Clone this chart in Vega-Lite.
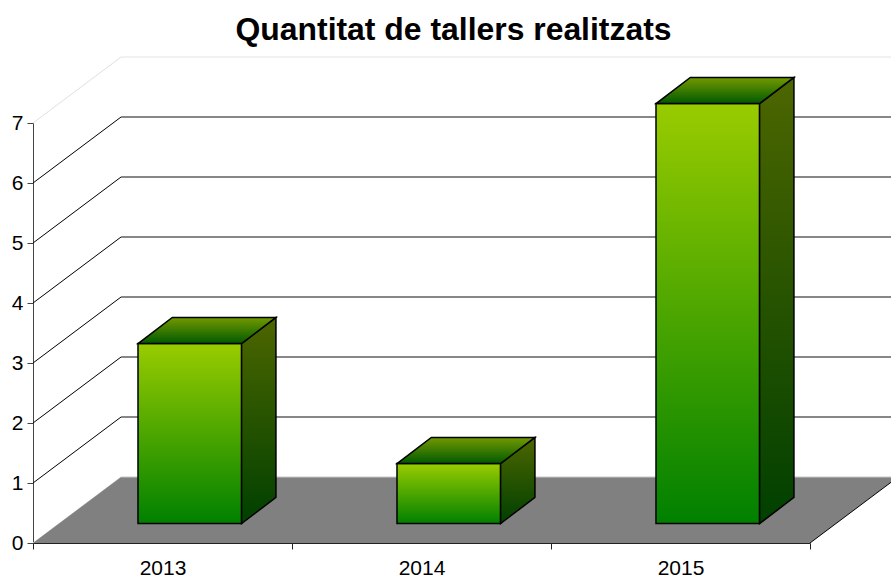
{
"$schema":"https://vega.github.io/schema/vega-lite/v6.json",
"width":777,"height":420,
"autosize":{"type":"none"},
"padding":{"left":33,"right":81,"top":123,"bottom":36},
"background":"white",
"config":{"view":{"stroke":null},"axisY":{"title":null,"labelFont":"Liberation Sans","labelFontSize":21,"labelColor":"#000","labelPadding":4,"domainColor":"#444","tickColor":"#444","tickSize":6,"grid":false,"zindex":1}},
"title":{"text":"Quantitat de tallers realitzats","font":"Liberation Sans","fontWeight":"bold","fontSize":31.9,"color":"#000","anchor":"middle","frame":"group","dx":32,"offset":10},
"datasets":{
"bars":[{"year":"2013","value":3},{"year":"2014","value":1},{"year":"2015","value":7}],
"levels":[{"level":0},{"level":1},{"level":2},{"level":3},{"level":4},{"level":5},{"level":6},{"level":7}]
},
"resolve":{"scale":{"x":"independent"},"axis":{"x":"independent"}},
"layer":[
{"data":{"name":"bars"},"mark":{"type":"bar","opacity":0},
"encoding":{
"x":{"field":"year","type":"nominal","sort":null,"scale":{"type":"band","paddingInner":0,"paddingOuter":0},"axis":{"title":null,"tickBand":"extent","labelAngle":0,"labelFont":"Liberation Sans","labelFontSize":21,"labelColor":"#000","labelPadding":8,"domainColor":"#222","tickColor":"#222","tickSize":6,"grid":false,"zindex":1}},
"y":{"field":"value","type":"quantitative","stack":null,"title":null,"scale":{"domain":[0,7],"nice":false,"zero":false},"axis":{"values":[0,1,2,3,4,5,6,7],"format":"d"}}
}},
{"data":{"name":"levels"},
"transform":[{"calculate":"datum.level+1.1","as":"back"},{"calculate":"0","as":"x0"},{"calculate":"0.34","as":"x1"}],
"mark":{"type":"rule","strokeWidth":1},
"encoding":{
"x":{"field":"x0","type":"quantitative","axis":null,"scale":{"domain":[0,3],"nice":false,"zero":false}},
"x2":{"field":"x1"},
"y":{"field":"level","type":"quantitative","title":null,"axis":{"values":[0,1,2,3,4,5,6,7],"format":"d"}},
"y2":{"field":"back"},
"stroke":{"condition":{"test":"datum.level==0||datum.level==7","value":"#e0e0e0"},"value":"#000"}
}},
{"data":{"name":"levels"},
"transform":[{"filter":"datum.level==0"},{"calculate":"[0,1,2,3]","as":"k"},{"flatten":["k"]},
{"calculate":"datum.k==0?0:datum.k==1?0.34:datum.k==2?3:3.34","as":"px"},
{"calculate":"datum.k==0?0:1.1","as":"hi"},{"calculate":"datum.k==3?1.1:0","as":"lo"}],
"mark":{"type":"area","orient":"vertical","fill":"#808080","opacity":1},
"encoding":{
"x":{"field":"px","type":"quantitative","axis":null,"scale":{"domain":[0,3],"nice":false,"zero":false}},
"y":{"field":"hi","type":"quantitative","stack":null,"title":null,"axis":{"values":[0,1,2,3,4,5,6,7],"format":"d"}},
"y2":{"field":"lo"}
}},
{"data":{"name":"levels"},
"transform":[{"filter":"datum.level==0"},{"calculate":"3","as":"x0"},{"calculate":"3.34","as":"x1"},{"calculate":"1.1","as":"back"}],
"mark":{"type":"rule","strokeWidth":1,"stroke":"#000"},
"encoding":{
"x":{"field":"x0","type":"quantitative","axis":null,"scale":{"domain":[0,3],"nice":false,"zero":false}},
"x2":{"field":"x1"},
"y":{"field":"level","type":"quantitative","title":null,"axis":{"values":[0,1,2,3,4,5,6,7],"format":"d"}},
"y2":{"field":"back"}
}},
{"data":{"name":"levels"},
"transform":[{"calculate":"datum.level+1.1","as":"back"},{"calculate":"0.34","as":"x0"},{"calculate":"3.34","as":"x1"}],
"mark":{"type":"rule","strokeWidth":1.2},
"encoding":{
"x":{"field":"x0","type":"quantitative","axis":null,"scale":{"domain":[0,3],"nice":false,"zero":false}},
"x2":{"field":"x1"},
"y":{"field":"back","type":"quantitative","title":null,"axis":{"values":[0,1,2,3,4,5,6,7],"format":"d"}},
"stroke":{"condition":{"test":"datum.level==0","value":"#c8c8c8"},"value":"#111"},
"strokeOpacity":{"condition":{"test":"datum.level==7","value":0.12},"value":1}
}},
{"data":{"name":"bars"},
"transform":[{"calculate":"toNumber(datum.year)-2013","as":"idx"},
{"calculate":"datum.idx+0.3+0.31*0.34","as":"xa"},{"calculate":"datum.idx+0.7+0.31*0.34","as":"xb"},
{"calculate":"0.295*1.1","as":"lo"},{"calculate":"datum.value+0.295*1.1","as":"hi"}],
"mark":{"type":"rect","stroke":"#000","strokeWidth":1.5,"color":{"gradient":"linear","x1":0,"y1":0,"x2":0,"y2":1,"stops":[{"offset":0,"color":"#99cc00"},{"offset":1,"color":"#008000"}]}},
"encoding":{
"x":{"field":"xa","type":"quantitative","axis":null,"scale":{"domain":[0,3],"nice":false,"zero":false}},
"x2":{"field":"xb"},
"y":{"field":"hi","type":"quantitative","title":null,"axis":{"values":[0,1,2,3,4,5,6,7],"format":"d"}},
"y2":{"field":"lo"}
}},
{"data":{"name":"bars"},
"transform":[{"calculate":"toNumber(datum.year)-2013","as":"idx"},{"calculate":"[0.31,0.7]","as":"f"},{"flatten":["f"]},
{"calculate":"datum.idx+0.7+datum.f*0.34","as":"px"},
{"calculate":"(datum.f==0.31?0.295:0.69)*1.1","as":"lo"},{"calculate":"datum.value+(datum.f==0.31?0.295:0.69)*1.1","as":"hi"}],
"mark":{"type":"area","orient":"vertical","stroke":"#000","strokeWidth":1.5,"opacity":1,"color":{"gradient":"linear","x1":0,"y1":0,"x2":0,"y2":1,"stops":[{"offset":0,"color":"#4d6600"},{"offset":1,"color":"#004000"}]}},
"encoding":{
"x":{"field":"px","type":"quantitative","axis":null,"scale":{"domain":[0,3],"nice":false,"zero":false}},
"y":{"field":"hi","type":"quantitative","stack":null,"title":null,"axis":{"values":[0,1,2,3,4,5,6,7],"format":"d"}},
"y2":{"field":"lo"},
"detail":{"field":"year"}
}},
{"data":{"name":"bars"},
"transform":[{"calculate":"toNumber(datum.year)-2013","as":"idx"},{"calculate":"[0,1,2,3]","as":"k"},{"flatten":["k"]},
{"calculate":"datum.idx+(datum.k<2?0.3:0.7)+((datum.k==0||datum.k==2)?0.31:0.7)*0.34","as":"px"},
{"calculate":"datum.value+(datum.k==0?0.295:0.69)*1.1","as":"hi"},
{"calculate":"datum.value+(datum.k==3?0.69:0.295)*1.1","as":"lo"}],
"mark":{"type":"area","orient":"vertical","stroke":"#000","strokeWidth":1.5,"opacity":1,"color":{"gradient":"linear","x1":0,"y1":0,"x2":0,"y2":1,"stops":[{"offset":0,"color":"#739900"},{"offset":1,"color":"#005a00"}]}},
"encoding":{
"x":{"field":"px","type":"quantitative","axis":null,"scale":{"domain":[0,3],"nice":false,"zero":false}},
"y":{"field":"hi","type":"quantitative","stack":null,"title":null,"axis":{"values":[0,1,2,3,4,5,6,7],"format":"d"}},
"y2":{"field":"lo"},
"detail":{"field":"year"}
}}
]
}
